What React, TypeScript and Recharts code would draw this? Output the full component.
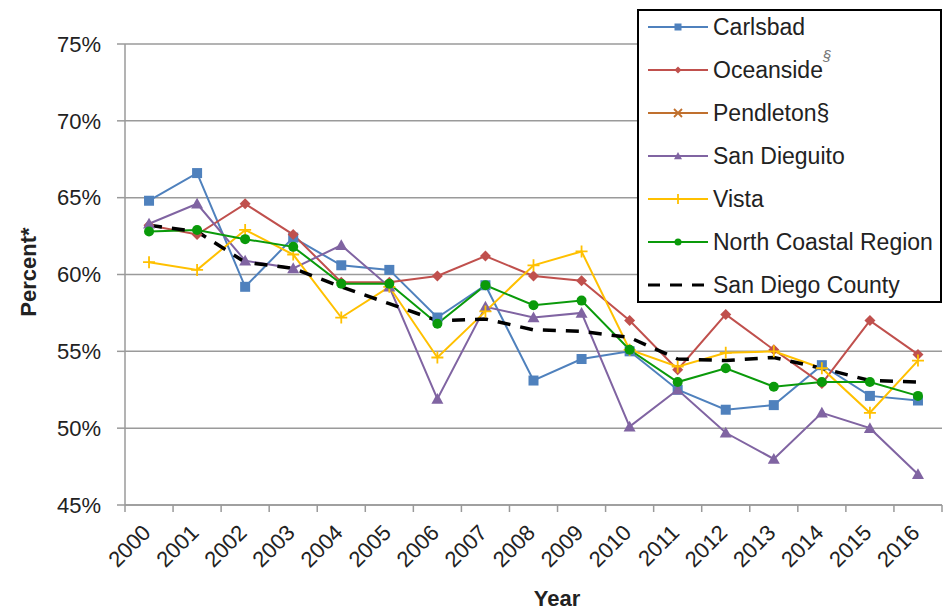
import { LineChart, Line, XAxis, YAxis, CartesianGrid, Legend } from 'recharts'

const years = [2000, 2001, 2002, 2003, 2004, 2005, 2006, 2007, 2008, 2009, 2010, 2011, 2012, 2013, 2014, 2015, 2016]
const yTicks = [45, 50, 55, 60, 65, 70, 75]

const carlsbad = [64.8, 66.6, 59.2, 62.4, 60.6, 60.3, 57.2, 59.3, 53.1, 54.5, 55.0, 52.5, 51.2, 51.5, 54.1, 52.1, 51.8]
const oceanside = [63.2, 62.6, 64.6, 62.6, 59.5, 59.5, 59.9, 61.2, 59.9, 59.6, 57.0, 53.8, 57.4, 55.1, 52.9, 57.0, 54.8]
const pendleton: (number | null)[] = years.map(() => null)
const sanDieguito = [63.3, 64.6, 60.9, 60.4, 61.9, 59.2, 51.9, 57.9, 57.2, 57.5, 50.1, 52.5, 49.7, 48.0, 51.0, 50.0, 47.0]
const vista = [60.8, 60.3, 62.9, 61.3, 57.2, 59.2, 54.6, 57.6, 60.6, 61.5, 55.1, 54.0, 54.9, 55.0, 53.9, 51.0, 54.4]
const northCoastal = [62.8, 62.9, 62.3, 61.8, 59.4, 59.4, 56.8, 59.3, 58.0, 58.3, 55.1, 53.0, 53.9, 52.7, 53.0, 53.0, 52.1]
const sanDiegoCounty = [63.2, 62.8, 60.8, 60.4, 59.2, 58.1, 57.0, 57.1, 56.4, 56.3, 55.9, 54.5, 54.4, 54.6, 53.9, 53.1, 53.0]

const FONT = '"Liberation Sans", Arial, sans-serif'
const GRID = '#9a9a9a'
const TEXT = '#222'

type MarkerType = 'square' | 'diamond' | 'x' | 'triangle' | 'plus' | 'circle' | 'none'

const series: { key: string; name: string; color: string; marker: MarkerType; values: (number | null)[]; dashed?: boolean }[] = [
  { key: 'carlsbad', name: 'Carlsbad', color: '#4f81bd', marker: 'square', values: carlsbad },
  { key: 'oceanside', name: 'Oceanside', color: '#c0504d', marker: 'diamond', values: oceanside },
  { key: 'pendleton', name: 'Pendleton§', color: '#c0702e', marker: 'x', values: pendleton },
  { key: 'sanDieguito', name: 'San Dieguito', color: '#8064a2', marker: 'triangle', values: sanDieguito },
  { key: 'vista', name: 'Vista', color: '#ffc000', marker: 'plus', values: vista },
  { key: 'northCoastal', name: 'North Coastal Region', color: '#0a9a0a', marker: 'circle', values: northCoastal },
  { key: 'sanDiegoCounty', name: 'San Diego County', color: '#000000', marker: 'none', values: sanDiegoCounty, dashed: true },
]

const data = years.map((year, i) => {
  const row: Record<string, number | null> = { year }
  series.forEach(s => { row[s.key] = s.values[i] })
  return row
})

const PLOT_LEFT = 125
const PLOT_RIGHT = 942
const HALF_BAND = (PLOT_RIGHT - PLOT_LEFT) / years.length / 2

function Marker({ type, cx, cy, color, size }: { type: MarkerType; cx: number; cy: number; color: string; size: number }) {
  const h = size / 2
  switch (type) {
    case 'square':
      return <rect x={cx - h} y={cy - h} width={size} height={size} fill={color} />
    case 'diamond':
      return <polygon points={`${cx},${cy - h} ${cx + h},${cy} ${cx},${cy + h} ${cx - h},${cy}`} fill={color} />
    case 'triangle':
      return <polygon points={`${cx},${cy - h} ${cx + h},${cy + h * 0.8} ${cx - h},${cy + h * 0.8}`} fill={color} />
    case 'circle':
      return <circle cx={cx} cy={cy} r={h} fill={color} />
    case 'plus':
      return <path d={`M${cx - h},${cy}H${cx + h}M${cx},${cy - h}V${cy + h}`} stroke={color} strokeWidth={1.8} />
    case 'x':
      return <path d={`M${cx - h},${cy - h}L${cx + h},${cy + h}M${cx + h},${cy - h}L${cx - h},${cy + h}`} stroke={color} strokeWidth={1.8} />
    default:
      return null
  }
}

const markerSize: Record<MarkerType, number> = { square: 10, diamond: 11, triangle: 12, circle: 10, plus: 12, x: 8, none: 0 }
const legendMarkerSize: Record<MarkerType, number> = { square: 7, diamond: 7, triangle: 8, circle: 7, plus: 10, x: 8, none: 0 }

function YearTick({ x, y, payload, index }: any) {
  return (
    <g>
      <line x1={x - HALF_BAND} x2={x - HALF_BAND} y1={y} y2={y + 7} stroke={GRID} strokeWidth={1.5} />
      {index === years.length - 1 && (
        <line x1={x + HALF_BAND} x2={x + HALF_BAND} y1={y} y2={y + 7} stroke={GRID} strokeWidth={1.5} />
      )}
      <text
        x={x + 3}
        y={y + 29}
        transform={`rotate(-45 ${x + 3} ${y + 29})`}
        textAnchor="end"
        fontSize={22}
        fontFamily={FONT}
        fill={TEXT}
      >
        {payload.value}
      </text>
    </g>
  )
}

function LegendBox() {
  return (
    <div
      style={{
        position: 'relative',
        width: '100%',
        height: '100%',
        boxSizing: 'border-box',
        border: '2px solid #000',
        background: '#fff',
        fontFamily: FONT,
        fontSize: 23,
        color: TEXT,
      }}
    >
      {series.map((s, i) => (
        <div key={s.key} style={{ position: 'absolute', left: 0, top: 3 + i * 43, height: 26, width: '100%' }}>
          <svg width={62} height={26} style={{ position: 'absolute', left: 8, top: 0 }}>
            <line
              x1={1}
              x2={61}
              y1={13}
              y2={13}
              stroke={s.color}
              strokeWidth={s.dashed ? 3 : 2}
              strokeDasharray={s.dashed ? '12 10' : undefined}
            />
            <Marker type={s.marker} cx={31} cy={13} color={s.color} size={legendMarkerSize[s.marker]} />
          </svg>
          <span style={{ position: 'absolute', left: 74, top: 0, lineHeight: '26px', whiteSpace: 'nowrap' }}>
            {s.name}
            {s.key === 'oceanside' && (
              <span style={{ position: 'relative', top: -17, marginLeft: 0, fontSize: 15, fontStyle: 'italic', color: '#777' }}>§</span>
            )}
          </span>
        </div>
      ))}
    </div>
  )
}

export default function App() {
  return (
    <div style={{ width: 949, height: 610, background: '#fff' }}>
      <style>{'body { margin: 0; }'}</style>
      <LineChart width={949} height={610} data={data} margin={{ top: 44, right: 7, bottom: 0, left: 0 }}>
        <CartesianGrid vertical={false} stroke={GRID} strokeWidth={1.5} />
        <XAxis
          dataKey="year"
          type="number"
          domain={[1999.5, 2016.5]}
          ticks={years}
          interval={0}
          height={105}
          tickSize={0}
          tickMargin={0}
          tickLine={false}
          axisLine={{ stroke: GRID, strokeWidth: 1.5 }}
          tick={(props: any) => <YearTick {...props} />}
          label={{
            content: () => (
              <text x={557} y={606} textAnchor="middle" fontSize={22} fontWeight="bold" fontFamily={FONT} fill={TEXT}>
                Year
              </text>
            ),
          }}
        />
        <YAxis
          width={125}
          domain={[45, 75]}
          ticks={yTicks}
          interval={0}
          tickFormatter={(v: number) => `${v}%`}
          tickSize={8}
          tickMargin={16}
          axisLine={{ stroke: GRID, strokeWidth: 1.5 }}
          tickLine={{ stroke: GRID, strokeWidth: 1.5 }}
          tick={{ fill: TEXT, fontSize: 22, fontFamily: FONT }}
          label={{
            content: () => (
              <text
                x={28}
                y={272}
                transform="rotate(-90 28 272)"
                textAnchor="middle"
                dominantBaseline="central"
                fontSize={22}
                fontWeight="bold"
                fontFamily={FONT}
                fill={TEXT}
              >
                Percent*
              </text>
            ),
          }}
        />
        {series.map(s => (
          <Line
            key={s.key}
            dataKey={s.key}
            name={s.name}
            stroke={s.color}
            strokeWidth={s.dashed ? 3.5 : 2}
            strokeDasharray={s.dashed ? '13 10' : undefined}
            isAnimationActive={false}
            connectNulls={false}
            activeDot={false}
            dot={(p: any) =>
              p.cx == null || p.cy == null || p.value == null || s.marker === 'none' ? (
                <g key={`${s.key}-${p.index}`} />
              ) : (
                <Marker key={`${s.key}-${p.index}`} type={s.marker} cx={p.cx} cy={p.cy} color={s.color} size={markerSize[s.marker]} />
              )
            }
          />
        ))}
        <Legend
          layout="vertical"
          align="center"
          verticalAlign="middle"
          wrapperStyle={{ position: 'absolute', left: 637, top: 9, width: 305, height: 294 }}
          content={() => <LegendBox />}
        />
      </LineChart>
    </div>
  )
}
